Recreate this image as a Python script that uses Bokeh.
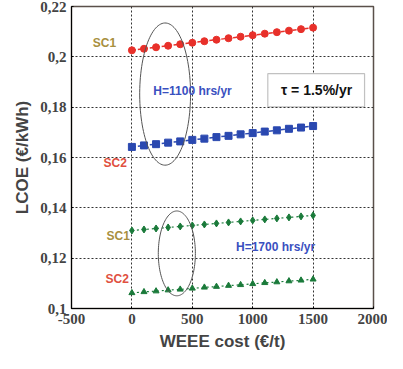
import numpy as np
from bokeh.plotting import figure
from bokeh.models import FixedTicker, CustomJSTickFormatter, BoxAnnotation
from bokeh.core.properties import value
from bokeh.embed import file_html
from bokeh.resources import INLINE

# WEEE cost (€/t)
weee = [0, 100, 200, 300, 400, 500, 600, 700, 800, 900, 1000, 1100, 1200, 1300, 1400, 1500]
# LCOE (€/kWh)
sc1_h1100 = [0.2026, 0.2032, 0.2038, 0.2044, 0.2050, 0.2056, 0.2062, 0.2068,
             0.2074, 0.2080, 0.2086, 0.2092, 0.2098, 0.2104, 0.2110, 0.2116]
sc2_h1100 = [0.1642, 0.1648, 0.1653, 0.1659, 0.1664, 0.1670, 0.1675, 0.1681,
             0.1686, 0.1692, 0.1697, 0.1703, 0.1708, 0.1714, 0.1719, 0.1725]
sc1_h1700 = [0.1310, 0.1314, 0.1318, 0.1322, 0.1326, 0.1330, 0.1334, 0.1338,
             0.1342, 0.1346, 0.1350, 0.1354, 0.1358, 0.1362, 0.1366, 0.1370]
sc2_h1700 = [0.1062, 0.1066, 0.1069, 0.1073, 0.1076, 0.1080, 0.1084, 0.1087,
             0.1091, 0.1094, 0.1098, 0.1102, 0.1105, 0.1109, 0.1112, 0.1116]

x_ticks = [-500, 0, 500, 1000, 1500, 2000]
y_ticks = [0.10, 0.12, 0.14, 0.16, 0.18, 0.20, 0.22]

p = figure(width=387, height=353, x_range=(-500, 2000), y_range=(0.1, 0.22),
           output_backend="svg", toolbar_location=None,
           x_axis_label="WEEE cost (€/t)", y_axis_label="LCOE (€/kWh)",
           min_border_left=71, min_border_right=14, min_border_top=6, min_border_bottom=41)
p.outline_line_color = "#5a504a"
p.outline_line_width = 1.5

p.xaxis.ticker = FixedTicker(ticks=x_ticks)
p.yaxis.ticker = FixedTicker(ticks=y_ticks)
p.yaxis.formatter = CustomJSTickFormatter(code="return String(Math.round(tick*100)/100).replace('.', ',');")
p.xaxis.formatter = CustomJSTickFormatter(code="return String(Math.round(tick));")
p.xaxis.major_label_text_font = "Liberation Serif"
p.yaxis.major_label_text_font = "Liberation Serif"
p.xaxis.major_label_text_font_style = "bold"
p.yaxis.major_label_text_font_style = "bold"
p.xaxis.major_label_text_font_size = "15px"
p.yaxis.major_label_text_font_size = "15px"
p.xaxis.major_tick_out = 0
p.yaxis.major_tick_out = 0
p.xaxis.minor_tick_out = 0
p.yaxis.minor_tick_out = 0
p.xaxis.axis_label_text_font_style = "bold"
p.yaxis.axis_label_text_font_style = "bold"
p.xaxis.axis_label_text_font_size = "17px"
p.yaxis.axis_label_text_font_size = "17px"

p.xgrid.grid_line_color = "#333333"
p.ygrid.grid_line_color = "#333333"
p.xgrid.grid_line_dash = "2 2"
p.ygrid.grid_line_dash = "2 2"

red = "#e8302a"
blue = "#2a48b0"
green = "#1a7a3a"

p.line(weee, sc1_h1100, line_color=red, line_width=1.5, line_dash="4 2")
p.scatter(weee, sc1_h1100, marker="circle", size=7, color=red)
p.line(weee, sc2_h1100, line_color=blue, line_width=1.5, line_dash="4 2")
p.scatter(weee, sc2_h1100, marker="square", size=7, color=blue)
p.line(weee, sc1_h1700, line_color=green, line_width=1.2, line_dash="2 3")
p.scatter(weee, sc1_h1700, marker="diamond", size=7, color=green)
p.line(weee, sc2_h1700, line_color=green, line_width=1.2, line_dash="2 3")
p.scatter(weee, sc2_h1700, marker="triangle", size=6, color=green)

# ellipse outlines (centre, width, height in data units)
theta = np.linspace(0, 2 * np.pi, 120)
for cx, cy, w, h in [(275, 0.1852, 421, 0.0565), (372, 0.1219, 307, 0.0337)]:
    p.line(cx + w / 2 * np.cos(theta), cy + h / 2 * np.sin(theta),
           line_color="#555555", line_width=1)

p.add_layout(BoxAnnotation(left=1125, right=1926, bottom=0.1801, top=0.1933,
                           fill_color="white", fill_alpha=1.0,
                           line_color="#333333", line_width=1.2))

def lab(x, y, text, color, size="12px"):
    p.text(x=[x], y=[y], text=[text], text_color=color,
           text_font=value("Liberation Sans"), text_font_size=size,
           text_font_style="bold", text_align="center", text_baseline="middle",
           level="overlay")

olive = "#a89040"
sc2c = "#e05040"
hblue = "#3a50c0"
lab(-227, 0.2053, "SC1", olive)
lab(-138, 0.1580, "SC2", sc2c)
lab(502, 0.1863, "H=1100 hrs/yr", hblue)
lab(-113, 0.1290, "SC1", olive)
lab(-121, 0.1116, "SC2", sc2c)
lab(1189, 0.1244, "H=1700 hrs/yr", hblue)
lab(1529, 0.1869, "τ = 1.5%/yr", "#111111", size="14px")

open("out.html", "w", encoding="utf-8").write(file_html(p, INLINE))
